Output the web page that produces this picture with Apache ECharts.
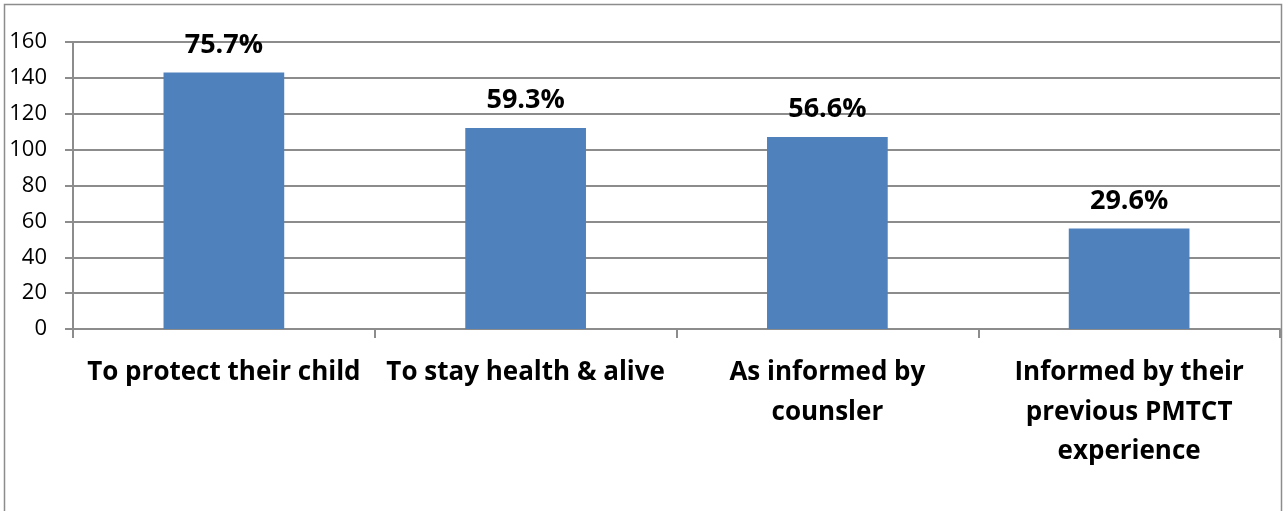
<!DOCTYPE html>
<html>
<head>
<meta charset="utf-8">
<script src="https://cdn.jsdelivr.net/npm/echarts@6/dist/echarts.min.js"></script>
<style>
html,body{margin:0;padding:0;background:#fff;}
#chart{width:1286px;height:511px;}
</style>
</head>
<body>
<div id="chart"></div>
<script>
const categories = [
  "To protect their child",
  "To stay health & alive",
  "As informed by\ncounsler",
  "Informed by their\nprevious PMTCT\nexperience"
];
const counts = [143, 112, 107, 56];
const percentLabels = ["75.7%", "59.3%", "56.6%", "29.6%"];
const yTicks = [0, 20, 40, 60, 80, 100, 120, 140, 160];

const chart = echarts.init(document.getElementById('chart'), null, {renderer: 'canvas'});
const FONT = '"Open Sans", "Noto Sans", sans-serif';
chart.setOption({
  animation: false,
  backgroundColor: '#fff',
  graphic: [{
    type: 'rect',
    shape: {x: 4.5, y: 4.5, width: 1277, height: 530},
    style: {fill: 'none', stroke: '#8c8c8c', lineWidth: 1.5},
    silent: true,
    z: 100
  }],
  grid: {left: 73, right: 6, top: 42, bottom: 182, containLabel: false},
  xAxis: {
    type: 'category',
    data: categories,
    axisLine: {lineStyle: {color: '#8c8c8c', width: 2}},
    axisTick: {show: true, length: 9, lineStyle: {color: '#8c8c8c', width: 2}},
    axisLabel: {
      interval: 0,
      margin: 24,
      color: '#000',
      fontFamily: FONT,
      fontWeight: 'bold',
      fontSize: 26,
      lineHeight: 39.5,
      align: 'center'
    }
  },
  yAxis: {
    type: 'value',
    min: yTicks[0],
    max: yTicks[yTicks.length - 1],
    interval: yTicks[1] - yTicks[0],
    axisLine: {show: true, lineStyle: {color: '#8c8c8c', width: 2}},
    axisTick: {show: true, length: 8, lineStyle: {color: '#8c8c8c', width: 2}},
    splitLine: {lineStyle: {color: '#8c8c8c', width: 2}},
    axisLabel: {
      color: '#000',
      fontFamily: FONT,
      fontSize: 22,
      margin: 26
    }
  },
  series: [{
    type: 'bar',
    data: counts,
    barWidth: '40%',
    itemStyle: {color: '#4F81BD'},
    label: {
      show: true,
      position: 'top',
      distance: 14,
      color: '#000',
      fontFamily: FONT,
      fontWeight: 'bold',
      fontSize: 27,
      formatter: p => percentLabels[p.dataIndex]
    }
  }]
});
</script>
</body>
</html>
